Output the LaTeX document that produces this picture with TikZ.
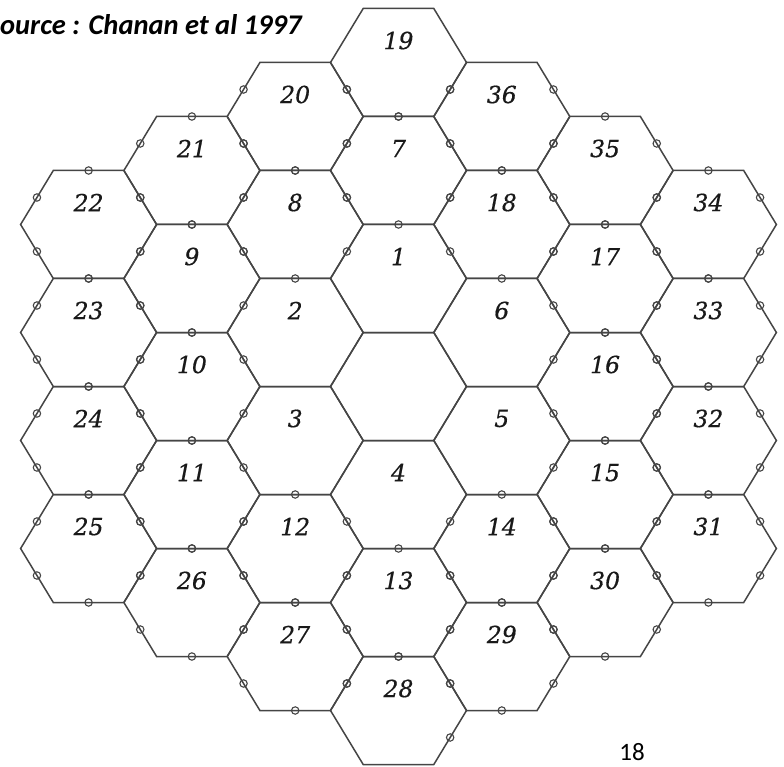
\documentclass[tikz,border=0pt]{standalone}
\usepackage{fontspec}
\newfontfamily\labfont[FakeBold=0.5]{DejaVu Serif}
\newfontfamily\srcfont{Carlito}
\usetikzlibrary{calc}
\definecolor{linegray}{HTML}{454545}
\tikzset{
  hexline/.style={draw=linegray, line width=1.5pt, line join=miter},
  sensor/.style={draw=linegray, line width=1.1pt},
  lab/.style={font=\labfont\itshape\fontsize{23.5}{23.5}\selectfont, text=black!90, inner sep=0pt},
  srctext/.style={font=\srcfont\bfseries\itshape\fontsize{28.5}{28.5}\selectfont, inner sep=0pt, anchor=base west},
  pagenum/.style={font=\srcfont\fontsize{25}{25}\selectfont, inner sep=0pt, anchor=base},
}
\begin{document}
\begin{tikzpicture}[x=1pt,y=-1pt]
\useasboundingbox (0,0) rectangle (784,767);
\fill[white] (0,0) rectangle (784,767);
% centres of the segments
\foreach \q/\s/\n in {0/0/c,
  0/-2/1,-1/-1/2,-1/1/3,0/2/4,1/1/5,1/-1/6,
  0/-4/7,-1/-3/8,-2/-2/9,-2/0/10,-2/2/11,-1/3/12,0/4/13,1/3/14,2/2/15,2/0/16,2/-2/17,1/-3/18,
  0/-6/19,-1/-5/20,-2/-4/21,-3/-3/22,-3/-1/23,-3/1/24,-3/3/25,-2/4/26,-1/5/27,0/6/28,
  1/5/29,2/4/30,3/3/31,3/1/32,3/-1/33,3/-3/34,2/-4/35,1/-5/36}{
  \coordinate (h\n) at ({398.5+103.3*\q},{386.5+54*\s});
  \draw[hexline, shift={(h\n)}] (-68,0) -- (-35.3,-54) -- (35.3,-54) -- (68,0) -- (35.3,54) -- (-35.3,54) -- cycle;
}
% labels
\foreach \n in {1,...,36}{
  \node[lab] (l\n) at ($(h\n)+(0,-22)$) {\n};
}
% sensors: segments with all six edges marked
\foreach \n in {7,...,18,21,22,23,24,25,26,27,29,30,31,32,33,34,35}{
  \foreach \dx/\dy in {0/-54,0/54,-51.65/-27,-51.65/27,51.65/-27,51.65/27}{
    \draw[sensor] ($(h\n)+(\dx,\dy)$) circle[radius=3.7pt];
  }
}
% sensors: segments with some outer edges unmarked
\foreach \dx/\dy in {0/54,-51.65/27,51.65/27}{
  \draw[sensor] ($(h19)+(\dx,\dy)$) circle[radius=3.7pt];
}
\foreach \dx/\dy in {0/54,-51.65/-27,-51.65/27,51.65/-27,51.65/27}{
  \draw[sensor] ($(h20)+(\dx,\dy)$) circle[radius=3.7pt];
  \draw[sensor] ($(h36)+(\dx,\dy)$) circle[radius=3.7pt];
}
\foreach \dx/\dy in {0/-54,-51.65/-27,51.65/-27,51.65/27}{
  \draw[sensor] ($(h28)+(\dx,\dy)$) circle[radius=3.7pt];
}
% texts
\node[srctext] (src) at (0,35) {ource : Chanan et al 1997};
\node[pagenum] (pg) at (632,760) {18};
\end{tikzpicture}
\end{document}
